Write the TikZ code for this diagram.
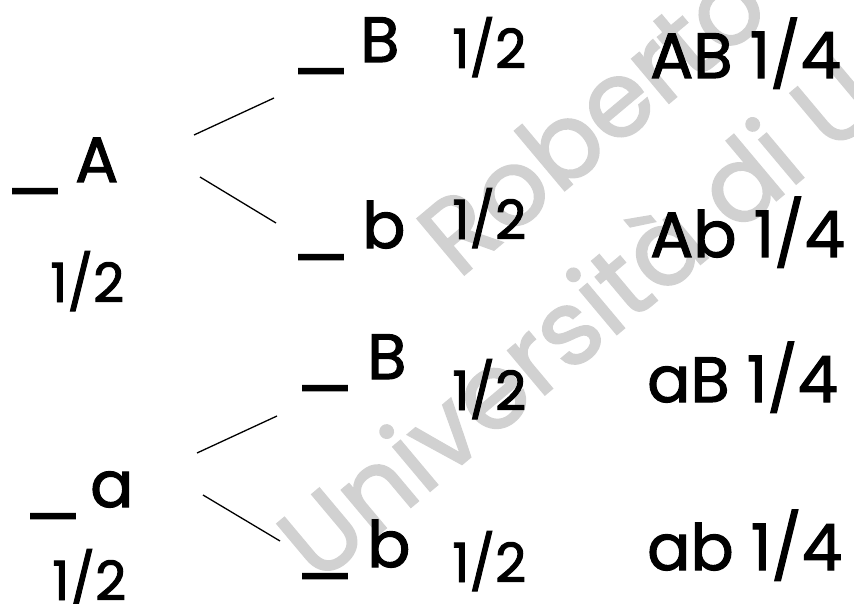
\documentclass[tikz,border=0pt]{standalone}
\usepackage{graphicx}
\usepackage{fontspec}
\setmainfont{Poppins}
\newfontfamily\treefont[BoldFont={Poppins},BoldFeatures={FakeBold=1.8}]{Poppins}
\newcommand{\barmark}{\scalebox{1.3}[1]{\_}}
\begin{document}
\begin{tikzpicture}[x=1pt,y=-1pt,
  big/.style={inner sep=0pt,anchor=base west,font=\treefont\bfseries\fontsize{64}{70}\selectfont},
  small/.style={inner sep=0pt,anchor=base west,font=\treefont\bfseries\fontsize{54}{60}\selectfont},
  wm/.style={inner sep=0pt,anchor=base west,rotate=40,text=black!18,font=\treefont\bfseries\fontsize{105}{110}\selectfont},
  branch/.style={line width=1.3pt,black}]
\useasboundingbox (0,0) rectangle (854,604);
\begin{scope}
\clip (0,0) rectangle (854,604);
\node[wm] (wm1) at (458,280) {Roberto};
\node[wm] (wm2) at (318,585) {Università di U};
\end{scope}
% top half
\node[big] (uA) at (4,186) {\barmark};
\node[big] (A) at (75,182) {A};
\node[small] (pA) at (50,302) {1/2};
\node[big] (uB1) at (290,66) {\barmark};
\node[big] (B1) at (360,62) {B};
\node[big] (ub1) at (290,252) {\barmark};
\node[big] (b1) at (362,248) {b};
\node[small] (pB1) at (452,68) {1/2};
\node[small] (pb1) at (452,239) {1/2};
\node[big] (AB) at (650,78) {AB 1/4};
\node[big] (Ab) at (650,257) {Ab 1/4};
% bottom half
\node[big] (ua) at (22,511) {\barmark};
\node[big] (a) at (90,507) {a};
\node[small] (pa) at (52,600) {1/2};
\node[big] (uB2) at (294,383) {\barmark};
\node[big] (B2) at (367,379) {B};
\node[big] (ub2) at (294,571) {\barmark};
\node[big] (b2) at (367,567) {b};
\node[small] (pB2) at (452,410) {1/2};
\node[small] (pb2) at (452,582) {1/2};
\node[big] (aB) at (647,402) {aB 1/4};
\node[big] (ab) at (647,570) {ab 1/4};
% branch ends
\coordinate (A-up) at (194,135);
\coordinate (B1-in) at (274,98);
\coordinate (A-dn) at (200,177);
\coordinate (b1-in) at (276,223);
\coordinate (a-up) at (197,453);
\coordinate (B2-in) at (277,416);
\coordinate (a-dn) at (203,495);
\coordinate (b2-in) at (280,541);
\draw[branch] (A-up) -- (B1-in);
\draw[branch] (A-dn) -- (b1-in);
\draw[branch] (a-up) -- (B2-in);
\draw[branch] (a-dn) -- (b2-in);
\end{tikzpicture}
\end{document}
